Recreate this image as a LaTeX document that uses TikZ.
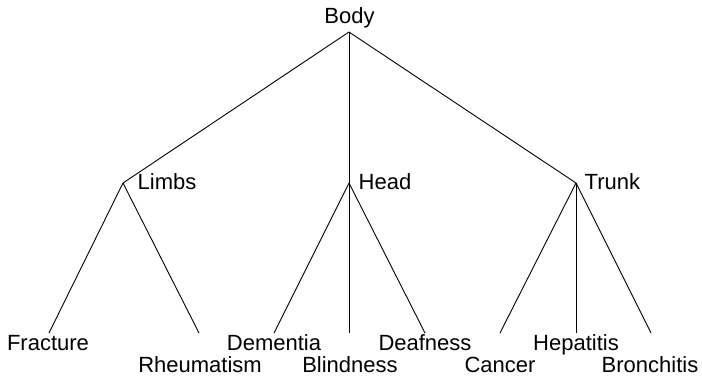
\documentclass[tikz,border=0pt]{standalone}
\usepackage{fontspec}
\setmainfont{Liberation Sans}
\begin{document}
\begin{tikzpicture}[x=1pt,y=-1pt,
  lbl/.style={inner sep=0pt,font=\fontsize{22}{26}\selectfont},
  edge/.style={line width=0.9pt,black}]
\useasboundingbox (0,0) rectangle (702,378);
% labels
\node[lbl,anchor=base] (body) at (349.5,23.5) {Body};
\node[lbl,anchor=base west] (limbsl) at (137.5,189) {Limbs};
\node[lbl,anchor=base west] (headl) at (358.5,189) {Head};
\node[lbl,anchor=base west] (trunkl) at (584.5,189) {Trunk};
\node[lbl,anchor=base] (fracture) at (48,350.5) {Fracture};
\node[lbl,anchor=base] (rheum) at (200,372.5) {Rheumatism};
\node[lbl,anchor=base] (dementia) at (274,350.5) {Dementia};
\node[lbl,anchor=base] (blind) at (350,372.5) {Blindness};
\node[lbl,anchor=base] (deaf) at (425,350.5) {Deafness};
\node[lbl,anchor=base] (cancer) at (500,372.5) {Cancer};
\node[lbl,anchor=base] (hep) at (576,350.5) {Hepatitis};
\node[lbl,anchor=base] (bron) at (650,372.5) {Bronchitis};
% branch points
\coordinate (btop) at (349,32);
\coordinate (limbs) at (123,183);
\coordinate (head) at (349,183);
\coordinate (trunk) at (576,183);
\coordinate (e1) at (49,333);
\coordinate (e2) at (199,333);
\coordinate (e3) at (274,333);
\coordinate (e4) at (349,333);
\coordinate (e5) at (425,333);
\coordinate (e6) at (500,333);
\coordinate (e7) at (576,333);
\coordinate (e8) at (651,333);
% edges
\draw[edge] (btop) -- (limbs);
\draw[edge] (btop) -- (head);
\draw[edge] (btop) -- (trunk);
\draw[edge] (limbs) -- (e1);
\draw[edge] (limbs) -- (e2);
\draw[edge] (head) -- (e3);
\draw[edge] (head) -- (e4);
\draw[edge] (head) -- (e5);
\draw[edge] (trunk) -- (e6);
\draw[edge] (trunk) -- (e7);
\draw[edge] (trunk) -- (e8);
\end{tikzpicture}
\end{document}
